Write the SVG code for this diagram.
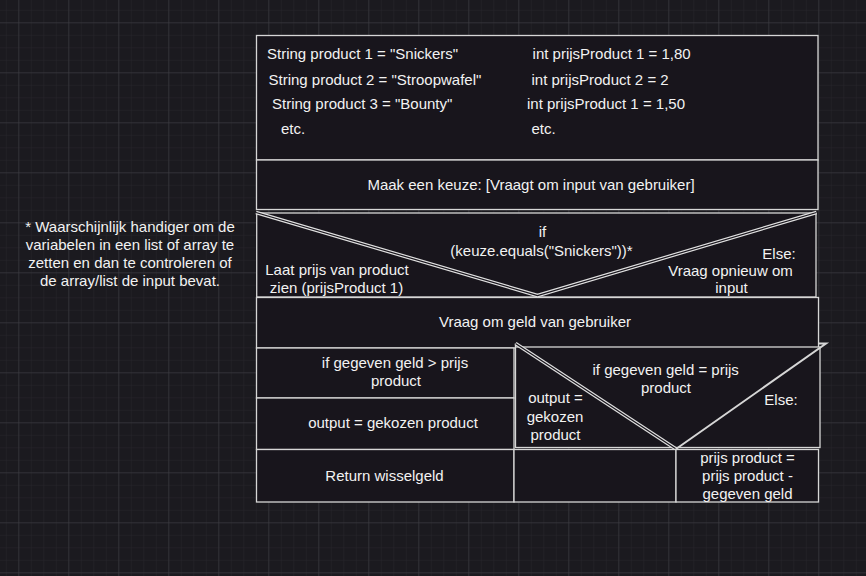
<svg xmlns="http://www.w3.org/2000/svg" width="866" height="576" viewBox="0 0 866 576">
<defs>
<pattern id="minor" x="5.8" y="9.8" width="12.5" height="12.5" patternUnits="userSpaceOnUse">
<path d="M0 0H12.5M0 0V12.5" fill="none" stroke="#27262c" stroke-width="1"/>
</pattern>
<pattern id="major" x="18.3" y="22.3" width="50" height="50" patternUnits="userSpaceOnUse">
<path d="M0 0H50M0 0V50" fill="none" stroke="#403f45" stroke-width="1"/>
</pattern>
</defs>
<style>
.box{fill:#18151c;stroke:#d6d6d6;stroke-width:1.3}
.ln{fill:none;stroke:#d6d6d6;stroke-width:1.3}
.dbl{fill:none;stroke:#e0e0e0;stroke-width:3.6}
.dblin{fill:none;stroke:#18151c;stroke-width:1.2}
.thick{fill:none;stroke:#d6d6d6;stroke-width:2}
text{font-family:"Liberation Sans",Arial,sans-serif;font-size:15px;fill:#f2f2f2}
.c{text-anchor:middle}
</style>
<rect width="866" height="576" fill="#1b1a1f"/>
<rect width="866" height="576" fill="url(#minor)"/>
<rect width="866" height="576" fill="url(#major)"/>

<g id="note">
<text class="c" x="130" y="231.5">* Waarschijnlijk handiger om de</text>
<text class="c" x="130" y="249.8">variabelen in een list of array te</text>
<text class="c" x="130" y="268.1">zetten en dan te controleren of</text>
<text class="c" x="130" y="286.4">de array/list de input bevat.</text>
</g>

<g id="variables">
<rect class="box" x="256.5" y="35.5" width="561.5" height="124.5"/>
<text x="267" y="59.4">String product 1 = "Snickers"</text>
<text x="268.5" y="84.7">String product 2 = "Stroopwafel"</text>
<text x="272" y="108.7">String product 3 = "Bounty"</text>
<text x="281" y="133.7">etc.</text>
<text x="532.6" y="59.4">int prijsProduct 1 = 1,80</text>
<text x="531.5" y="84.7">int prijsProduct 2 = 2</text>
<text x="527" y="108.7">int prijsProduct 1 = 1,50</text>
<text x="531.5" y="133.7">etc.</text>
</g>

<g id="keuze">
<rect class="box" x="256.5" y="160" width="561.5" height="49.5"/>
<text class="c" x="531" y="190.4">Maak een keuze: [Vraagt om input van gebruiker]</text>
</g>

<g id="if-snickers">
<rect class="box" x="256.7" y="213" width="559.3" height="84"/>
<path class="dbl" d="M256 212.5L537.5 295.5L816.5 212.5"/>
<path class="dblin" d="M256 212.5L537.5 295.5L816.5 212.5"/>
<text class="c" x="542.5" y="237.3">if</text>
<text class="c" x="541.5" y="255.6">(keuze.equals("Snickers"))*</text>
<text class="c" x="337" y="275.4">Laat prijs van product</text>
<text class="c" x="336.5" y="293.4">zien (prijsProduct 1)</text>
<text class="c" x="779" y="258.5">Else:</text>
<text class="c" x="730.5" y="275.6">Vraag opnieuw om</text>
<text class="c" x="731.5" y="293.4">input</text>
</g>

<g id="vraag-geld">
<rect class="box" x="256.5" y="297.5" width="562" height="50.5"/>
<text class="c" x="535" y="327.4">Vraag om geld van gebruiker</text>
</g>

<g id="if-groter">
<rect class="box" x="256.5" y="348" width="257.5" height="50"/>
<text class="c" x="395" y="368.4">if gegeven geld &gt; prijs</text>
<text class="c" x="396" y="386.4">product</text>
</g>

<g id="output-groter">
<rect class="box" x="256.5" y="398" width="257.5" height="51.5"/>
<text class="c" x="393" y="428.4">output = gekozen product</text>
</g>

<g id="return-wisselgeld">
<rect class="box" x="256.5" y="449.5" width="257.5" height="52.5"/>
<text class="c" x="384.5" y="481.4">Return wisselgeld</text>
</g>

<g id="if-gelijk">
<rect class="box" x="515.5" y="347" width="304.5" height="100.5"/>
<path class="ln" d="M515.5 343V347"/>
<path class="dbl" d="M515.5 343.5L676 449"/>
<path class="dblin" d="M515.5 343.5L676 449"/>
<path class="thick" d="M676 449L826 343.5H819"/>
<text class="c" x="665.7" y="375.4">if gegeven geld = prijs</text>
<text class="c" x="666" y="393.4">product</text>
<text class="c" x="555.5" y="403.4">output =</text>
<text class="c" x="555" y="421.7">gekozen</text>
<text class="c" x="555.5" y="439.7">product</text>
<text class="c" x="781" y="405.4">Else:</text>
</g>

<g id="leeg">
<rect class="box" x="514" y="449.5" width="162" height="52.5"/>
</g>

<g id="prijs-aanpassen">
<rect class="box" x="676" y="449.5" width="142.5" height="52.5"/>
<text class="c" x="747.5" y="463.4">prijs product =</text>
<text class="c" x="747.5" y="481.4">prijs product -</text>
<text class="c" x="747.5" y="499.4">gegeven geld</text>
</g>
</svg>
